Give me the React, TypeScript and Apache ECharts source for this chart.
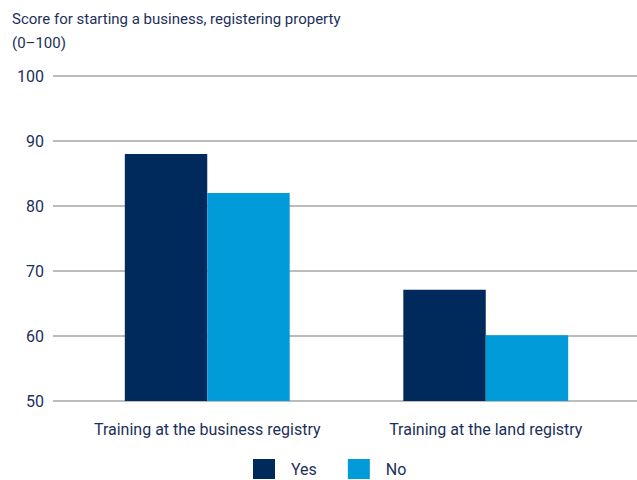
import React, { useEffect, useRef } from "react";
import * as echarts from "echarts";

const categories = ["Training at the business registry", "Training at the land registry"];
const yesValues = [88, 67.1];
const noValues = [82, 60.1];
const seriesNames = ["Yes", "No"];
const titleLines = ["Score for starting a business, registering property", "(0–100)"];

const FONT = "Roboto, 'Noto Sans', sans-serif";
const TEXT = "#1c2f5a";

export default function App() {
  const ref = useRef<HTMLDivElement>(null);
  useEffect(() => {
    if (!ref.current) return;
    const chart = echarts.init(ref.current, null, { renderer: "svg" });
    chart.setOption({
      animation: false,
      backgroundColor: "#ffffff",
      textStyle: { fontFamily: FONT, color: TEXT },
      title: {
        text: titleLines.join("\n"),
        left: 12,
        top: 7,
        padding: 0,
        textStyle: { fontFamily: FONT, fontSize: 15, fontWeight: "normal", color: TEXT, lineHeight: 24 },
      },
      legend: {
        bottom: 1,
        left: 253,
        padding: 0,
        itemWidth: 22,
        itemHeight: 20,
        itemGap: 31,
        icon: "rect",
        textStyle: { fontFamily: FONT, fontSize: 16, color: TEXT, padding: [0, 0, 0, 11] },
        data: seriesNames,
      },
      grid: [
        { left: 53, right: 0, top: 76, bottom: 79 },
        { left: 68, right: 12, top: 76, bottom: 79 },
      ],
      xAxis: [
        { type: "category", gridIndex: 0, data: categories, show: false },
        {
          type: "category",
          gridIndex: 1,
          data: categories,
          axisLine: { show: false },
          axisTick: { show: false },
          axisLabel: { interval: 0, fontFamily: FONT, fontSize: 16, color: TEXT, margin: 20 },
        },
      ],
      yAxis: [
        {
          type: "value",
          gridIndex: 0,
          min: 50,
          max: 100,
          interval: 10,
          axisLine: { show: false },
          axisTick: { show: false },
          axisLabel: { fontFamily: FONT, fontSize: 16, color: TEXT, margin: 9 },
          splitLine: { lineStyle: { color: "#a6a6a6", width: 1.5 } },
        },
        {
          type: "value",
          gridIndex: 1,
          min: 50,
          max: 100,
          interval: 10,
          show: false,
          splitLine: { show: false },
        },
      ],
      series: [
        {
          name: seriesNames[0],
          type: "bar",
          xAxisIndex: 1,
          yAxisIndex: 1,
          data: yesValues,
          barGap: "0%",
          barCategoryGap: "40.8%",
          itemStyle: { color: "#002a5c" },
        },
        {
          name: seriesNames[1],
          type: "bar",
          xAxisIndex: 1,
          yAxisIndex: 1,
          data: noValues,
          barGap: "0%",
          barCategoryGap: "40.8%",
          itemStyle: { color: "#009bd8" },
        },
      ],
    });
    return () => chart.dispose();
  }, []);
  return <div ref={ref} style={{ width: 637, height: 480, position: "absolute", left: 0, top: 0 }} />;
}
